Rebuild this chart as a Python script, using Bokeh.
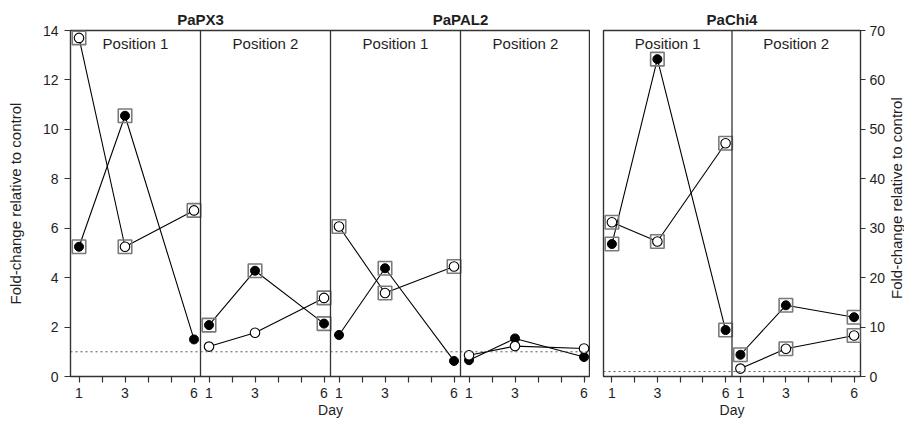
import math
from bokeh.plotting import figure
from bokeh.layouts import row
from bokeh.models import (ColumnDataSource, Range1d, LinearAxis, FixedTicker,
                          CustomJSTickFormatter, Span, Label)
from bokeh.transform import dodge
from bokeh.embed import file_html
from bokeh.resources import INLINE

# ---------------- data ----------------
days = [1, 3, 6]
tick_days = [1, 2, 3, 4, 5, 6]
tick_labels = ["1", "", "3", "", "", "6"]
genes = ["PaPX3", "PaPAL2", "PaChi4"]
positions = ["Position 1", "Position 2"]
left_ticks = [0, 2, 4, 6, 8, 10, 12, 14]
right_ticks = [0, 10, 20, 30, 40, 50, 60, 70]
control_level = 1
y_title = "Fold-change relative to control"
x_title = "Day"

# filled circles / open circles, and whether each point is boxed by a square
px3_p1_filled = [5.25, 10.55, 1.50]
px3_p1_filled_sig = [True, True, False]
px3_p1_open = [13.70, 5.25, 6.72]
px3_p1_open_sig = [True, True, True]

px3_p2_filled = [2.08, 4.28, 2.14]
px3_p2_filled_sig = [True, True, True]
px3_p2_open = [1.21, 1.77, 3.18]
px3_p2_open_sig = [False, False, True]

pal2_p1_filled = [1.68, 4.38, 0.63]
pal2_p1_filled_sig = [False, True, False]
pal2_p1_open = [6.07, 3.38, 4.45]
pal2_p1_open_sig = [True, True, True]

pal2_p2_filled = [0.66, 1.54, 0.79]
pal2_p2_filled_sig = [False, False, False]
pal2_p2_open = [0.86, 1.23, 1.13]
pal2_p2_open_sig = [False, False, False]

chi4_p1_filled = [26.8, 64.2, 9.4]
chi4_p1_filled_sig = [True, True, True]
chi4_p1_open = [31.2, 27.3, 47.2]
chi4_p1_open_sig = [True, True, True]

chi4_p2_filled = [4.4, 14.4, 12.0]
chi4_p2_filled_sig = [True, True, True]
chi4_p2_open = [1.6, 5.6, 8.3]
chi4_p2_open_sig = [False, True, True]

group_a = [
    (px3_p1_filled, px3_p1_filled_sig, px3_p1_open, px3_p1_open_sig),
    (px3_p2_filled, px3_p2_filled_sig, px3_p2_open, px3_p2_open_sig),
    (pal2_p1_filled, pal2_p1_filled_sig, pal2_p1_open, pal2_p1_open_sig),
    (pal2_p2_filled, pal2_p2_filled_sig, pal2_p2_open, pal2_p2_open_sig),
]
group_b = [
    (chi4_p1_filled, chi4_p1_filled_sig, chi4_p1_open, chi4_p1_open_sig),
    (chi4_p2_filled, chi4_p2_filled_sig, chi4_p2_open, chi4_p2_open_sig),
]

# ---------------- layout geometry ----------------
PX_PER_DAY = 23.0
PANEL_PX = 130
PANEL_W = PANEL_PX / PX_PER_DAY     # panel width in day units
PAD = 0.37                          # distance of day 1 from panel's left edge
FRAME_TOP = 30
FRAME_H = 347
BOTTOM = 43
TOTAL_H = FRAME_TOP + FRAME_H + BOTTOM
FONT = "Liberation Sans"
INK = "#1e1e1e"
FRAME = "#333333"


def style_text_axis(ax, size="14px"):
    ax.major_label_text_font = FONT
    ax.major_label_text_font_size = size
    ax.major_label_text_color = INK
    ax.minor_tick_line_color = None
    ax.major_tick_line_color = FRAME
    ax.major_tick_line_width = 1.2
    ax.major_tick_in = 0


def make_panel_group(groups, gene_names, y_max, yticks, y_side, width, left, right):
    n = len(groups)
    p = figure(width=width, height=TOTAL_H,
               x_range=Range1d(0, n * PANEL_W), y_range=Range1d(0, y_max),
               y_axis_location=y_side, output_backend="svg", toolbar_location=None,
               min_border_left=left, min_border_right=right,
               min_border_top=FRAME_TOP, min_border_bottom=BOTTOM)
    p.xgrid.visible = False
    p.ygrid.visible = False
    p.outline_line_color = FRAME
    p.outline_line_width = 1.4
    p.background_fill_color = "white"
    p.border_fill_color = "white"

    # bottom axis: a tick at every day of every panel, labels at 1, 3, 6
    shifts = [k * PANEL_W + PAD - 1 for k in range(n)]
    xa = p.xaxis[0]
    xa.ticker = FixedTicker(ticks=[s + d for s in shifts for d in tick_days])
    xa.formatter = CustomJSTickFormatter(args=dict(labels=tick_labels),
                                         code="return labels[index % labels.length];")
    style_text_axis(xa)
    xa.axis_line_color = None
    xa.major_tick_out = 6
    xa.major_label_standoff = 5
    xa.axis_label = x_title
    xa.axis_label_standoff = 1
    xa.axis_label_text_font = FONT
    xa.axis_label_text_font_size = "14px"
    xa.axis_label_text_font_style = "normal"
    xa.axis_label_text_color = INK

    # gene titles on a top axis, centred over each pair of panels
    ta = LinearAxis(ticker=FixedTicker(ticks=[(2 * i + 1) * PANEL_W for i in range(len(gene_names))]),
                    formatter=CustomJSTickFormatter(args=dict(names=gene_names),
                                                    code="return names[index];"))
    style_text_axis(ta, "15px")
    ta.major_label_text_font_style = "bold"
    ta.axis_line_color = None
    ta.major_tick_line_color = None
    ta.major_tick_out = 0
    ta.major_label_standoff = 3
    p.add_layout(ta, "above")

    # y axis
    ya = p.yaxis[0]
    ya.ticker = FixedTicker(ticks=yticks)
    style_text_axis(ya)
    ya.axis_line_color = None

    # panel dividers and control level
    for k in range(1, n):
        p.add_layout(Span(location=k * PANEL_W, dimension="height",
                          line_color=FRAME, line_width=1.3))
    p.add_layout(Span(location=control_level, dimension="width",
                      line_color="#555555", line_width=1, line_dash="2 3"))

    px_per_unit = FRAME_H / y_max
    for k, (fv, fs, ov, os_) in enumerate(groups):
        p.add_layout(Label(x=k * PANEL_W + PANEL_W / 2, y=y_max - 13 / px_per_unit,
                           text=positions[k % 2], text_align="center", text_baseline="middle",
                           text_font=FONT, text_font_size="15px", text_color=INK))
        for vals, sig, kind in ((fv, fs, "filled"), (ov, os_, "open")):
            src = ColumnDataSource(dict(day=days, val=vals))
            xs = dodge("day", shifts[k], range=None)
            p.line(x=xs, y="val", source=src, line_color="black", line_width=1.1)
            sdays = [d for d, s in zip(days, sig) if s]
            svals = [v for v, s in zip(vals, sig) if s]
            if sdays:
                ssrc = ColumnDataSource(dict(day=sdays, val=svals))
                p.scatter(x=dodge("day", shifts[k], range=None), y="val", source=ssrc,
                          marker="square", size=13.5, fill_color=None,
                          line_color="#7a7a7a", line_width=1.6)
            if kind == "filled":
                p.scatter(x=xs, y="val", source=src, marker="circle", size=9,
                          fill_color="black", line_color="black", line_width=1)
            else:
                p.scatter(x=xs, y="val", source=src, marker="circle", size=9.5,
                          fill_color="white", line_color="black", line_width=1.1)
    return p


pa = make_panel_group(group_a, genes[:2], 14, left_ticks, "left",
                      width=70 + 4 * PANEL_PX, left=70, right=0)
ya = pa.yaxis[0]
ya.major_tick_out = 6
ya.major_label_standoff = 6
ya.axis_label = y_title
ya.axis_label_standoff = 16
ya.axis_label_text_font = FONT
ya.axis_label_text_font_size = "15px"
ya.axis_label_text_font_style = "normal"
ya.axis_label_text_color = INK

RIGHT_B = 25
pb = make_panel_group(group_b, genes[2:], 70, right_ticks, "right",
                      width=13 + 2 * PANEL_PX + RIGHT_B, left=13, right=RIGHT_B)
yb = pb.yaxis[0]
yb.major_tick_out = 5
yb.major_label_standoff = 4

# narrow strip carrying the right-hand y title (reads bottom to top)
strip_w = 904 - (70 + 4 * PANEL_PX) - (13 + 2 * PANEL_PX + RIGHT_B)
pc = figure(width=strip_w, height=TOTAL_H, x_range=Range1d(0, 1), y_range=Range1d(0, TOTAL_H),
            x_axis_location=None, y_axis_location=None, output_backend="svg",
            toolbar_location=None, min_border=0)
pc.xgrid.visible = False
pc.ygrid.visible = False
pc.outline_line_color = None
pc.add_layout(Label(x=0.5, y=TOTAL_H - FRAME_TOP - FRAME_H / 2, text=y_title,
                    text_align="center", text_baseline="middle", angle=math.pi / 2,
                    text_font=FONT, text_font_size="15px", text_color=INK))

layout = row(pa, pb, pc)
open("out.html", "w").write(file_html(layout, INLINE))
